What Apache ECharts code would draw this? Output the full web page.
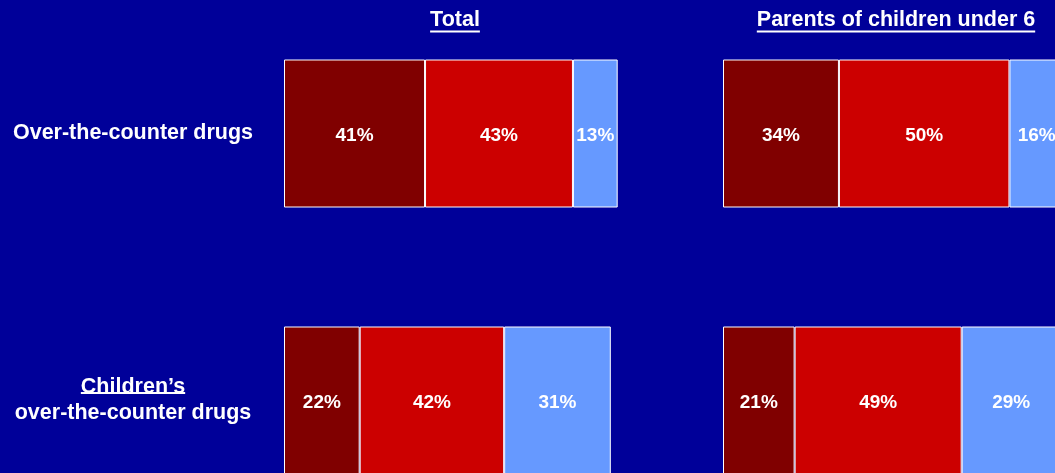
<!DOCTYPE html>
<html>
<head>
<meta charset="utf-8">
<script src="https://cdn.jsdelivr.net/npm/echarts@6/dist/echarts.min.js"></script>
<style>
html,body{margin:0;padding:0;background:#000099;}
#chart{width:1055px;height:473px;}
</style>
</head>
<body>
<div id="chart"></div>
<script>
var categories = ['Over-the-counter drugs', 'Children\u2019s\nover-the-counter drugs'];
var panelTitles = ['Total', 'Parents of children under 6'];
var totalA = [41, 22];
var totalB = [43, 42];
var totalC = [13, 31];
var parentsA = [34, 21];
var parentsB = [50, 49];
var parentsC = [16, 29];
var colors = ['#800000', '#CC0000', '#6699FF'];

var FONT = '"Liberation Sans", Arial, sans-serif';
function textWidth(txt, size) {
  var c = document.createElement('canvas').getContext('2d');
  c.font = 'bold ' + size + 'px ' + FONT;
  return c.measureText(txt).width;
}

var chart = echarts.init(document.getElementById('chart'));

function mkSeries(data, idx, color, stack) {
  return {
    type: 'bar', stack: stack, xAxisIndex: idx, yAxisIndex: idx,
    data: data, barWidth: 148, clip: false,
    itemStyle: { color: color, borderColor: '#ffffff', borderWidth: 1 },
    label: {
      show: true, position: 'inside', formatter: '{c}%', offset: [0, 2],
      color: '#ffffff', fontWeight: 'bold', fontSize: 19, fontFamily: FONT
    },
    emphasis: { disabled: true }
  };
}

var TITLE_SIZE = 21.5;
var LABEL_SIZE = 21.5;
var titleCenters = [455, 896];
var graphics = [];
panelTitles.forEach(function (t, i) {
  var w = textWidth(t, TITLE_SIZE);
  graphics.push({
    type: 'text', x: titleCenters[i], y: 20.5,
    style: { text: t, align: 'center', verticalAlign: 'middle', fill: '#ffffff',
      font: 'bold ' + TITLE_SIZE + 'px ' + FONT }
  });
  graphics.push({
    type: 'rect', shape: { x: titleCenters[i] - w / 2, y: 30.5, width: w, height: 2 },
    style: { fill: '#ffffff' }
  });
});
var uw = textWidth(categories[1].split('\n')[0], LABEL_SIZE);
graphics.push({
  type: 'rect', shape: { x: 133 - uw / 2, y: 392, width: uw, height: 2 },
  style: { fill: '#ffffff' }
});

chart.setOption({
  backgroundColor: '#000099',
  animation: false,
  grid: [
    { left: 284, width: 344, top: 0, height: 534, containLabel: false, outerBoundsMode: 'none' },
    { left: 723, width: 341, top: 0, height: 534, containLabel: false, outerBoundsMode: 'none' }
  ],
  xAxis: [
    { type: 'value', gridIndex: 0, min: 0, max: 100, show: false },
    { type: 'value', gridIndex: 1, min: 0, max: 100, show: false }
  ],
  yAxis: [
    { type: 'category', gridIndex: 0, data: categories, inverse: true,
      axisLine: { show: false }, axisTick: { show: false }, splitLine: { show: false },
      axisLabel: { show: true, color: '#ffffff', fontWeight: 'bold', fontSize: LABEL_SIZE,
        fontFamily: FONT, align: 'center', margin: 151, lineHeight: 26,
        padding: [0, 0, 6, 0] } },
    { type: 'category', gridIndex: 1, data: categories, inverse: true,
      axisLine: { show: false }, axisTick: { show: false }, splitLine: { show: false },
      axisLabel: { show: false } }
  ],
  series: [
    mkSeries(totalA, 0, colors[0], 't'),
    mkSeries(totalB, 0, colors[1], 't'),
    mkSeries(totalC, 0, colors[2], 't'),
    mkSeries(parentsA, 1, colors[0], 'p'),
    mkSeries(parentsB, 1, colors[1], 'p'),
    mkSeries(parentsC, 1, colors[2], 'p')
  ],
  graphic: graphics
});
</script>
</body>
</html>
